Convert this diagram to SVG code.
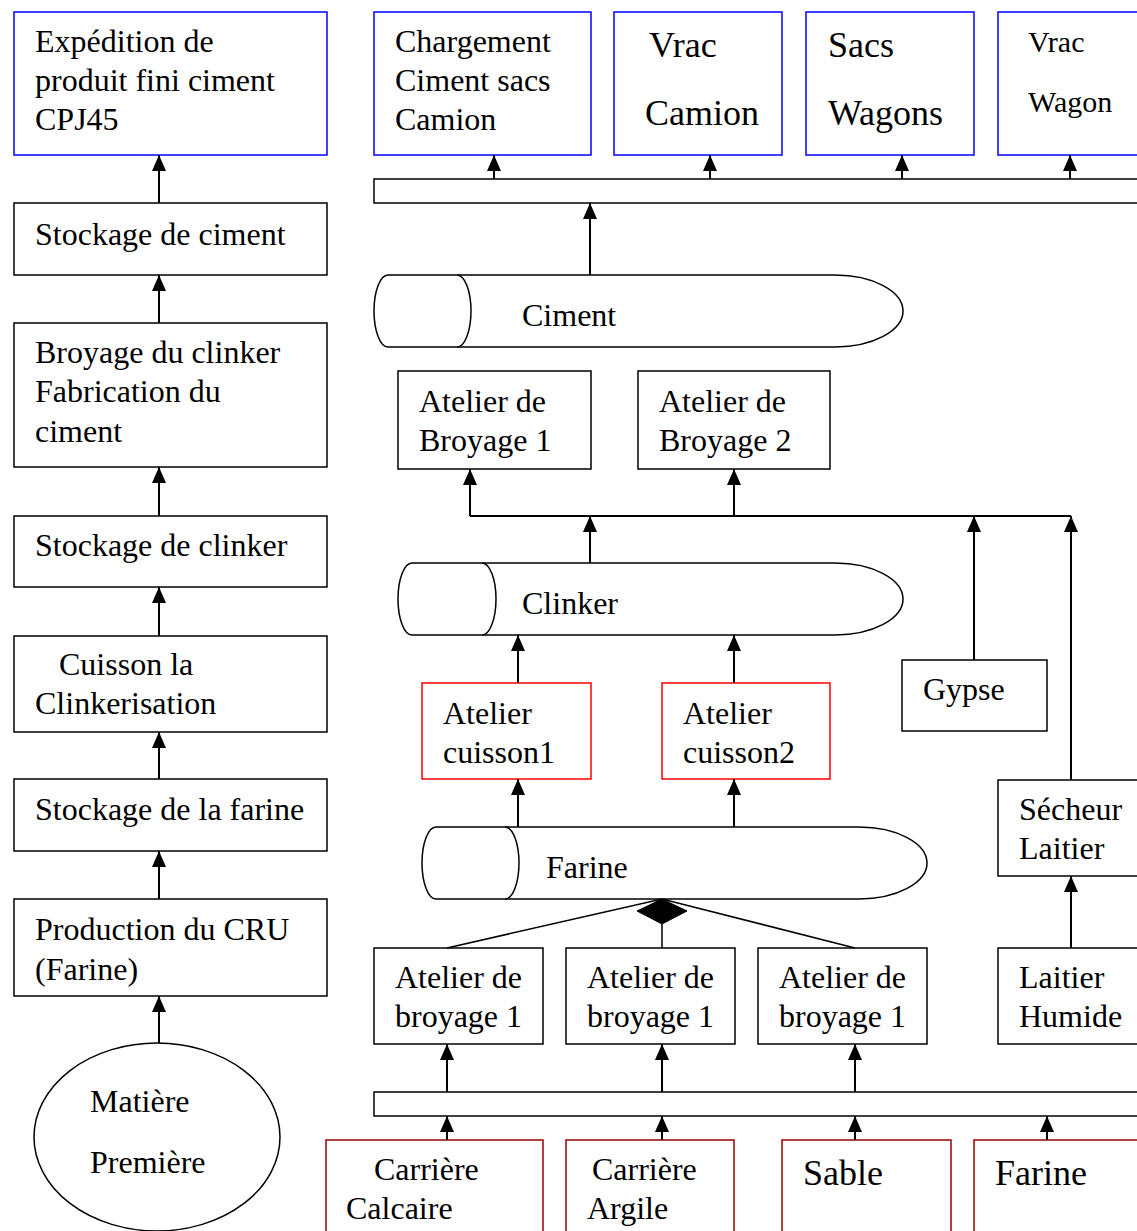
<svg xmlns="http://www.w3.org/2000/svg" width="1137" height="1231" viewBox="0 0 1137 1231">
  <style>
    text { font-family: "Liberation Serif", "Times New Roman", serif; font-size: 32px; fill: #000; }
    .big { font-size: 36px; }
    .mid { font-size: 30px; }
    .box { fill: #fff; stroke: #000; stroke-width: 1.5; }
    .blue { fill: #fff; stroke: #0000ff; stroke-width: 1.5; }
    .red { fill: #fff; stroke: #ff0000; stroke-width: 1.5; }
    .dark { fill: #fff; stroke: #990000; stroke-width: 1.5; }
    .silo { fill: #fff; stroke: #000; stroke-width: 1.5; }
    .arrow { fill: none; stroke: #000; stroke-width: 2; marker-end: url(#head); }
    .line { fill: none; stroke: #000; stroke-width: 2; }
    .thin { fill: none; stroke: #000; stroke-width: 1.5; }
  </style>
  <defs>
    <marker id="head" viewBox="0 0 16 14" refX="16" refY="7" markerWidth="16" markerHeight="14" markerUnits="userSpaceOnUse" orient="auto">
      <path d="M0,0 L16,7 L0,14 Z" fill="#000"/>
    </marker>
  </defs>
  <rect width="1137" height="1231" fill="#fff"/>

  <!-- Left column: overall process -->
  <g id="expedition">
    <rect class="blue" x="14" y="12" width="313" height="143"/>
    <text x="35" y="52">Expédition de</text>
    <text x="35" y="91">produit fini ciment</text>
    <text x="35" y="130">CPJ45</text>
  </g>
  <g id="stockage-ciment">
    <rect class="box" x="14" y="203" width="313" height="72"/>
    <text x="35" y="245">Stockage de ciment</text>
  </g>
  <g id="broyage-clinker">
    <rect class="box" x="14" y="323" width="313" height="144"/>
    <text x="35" y="363">Broyage du clinker</text>
    <text x="35" y="402">Fabrication du</text>
    <text x="35" y="442">ciment</text>
  </g>
  <g id="stockage-clinker">
    <rect class="box" x="14" y="516" width="313" height="71"/>
    <text x="35" y="556">Stockage de clinker</text>
  </g>
  <g id="cuisson">
    <rect class="box" x="14" y="636" width="313" height="96"/>
    <text x="59" y="675">Cuisson la</text>
    <text x="35" y="714">Clinkerisation</text>
  </g>
  <g id="stockage-farine">
    <rect class="box" x="14" y="779" width="313" height="72"/>
    <text x="35" y="820">Stockage de la farine</text>
  </g>
  <g id="production-cru">
    <rect class="box" x="14" y="899" width="313" height="97"/>
    <text x="35" y="940">Production du CRU</text>
    <text x="35" y="980">(Farine)</text>
  </g>
  <g id="matiere-premiere">
    <ellipse class="box" cx="157" cy="1137" rx="123" ry="94"/>
    <text x="90" y="1112">Matière</text>
    <text x="90" y="1173">Première</text>
  </g>

  <!-- Right side: expedition modes -->
  <g id="chargement-sacs">
    <rect class="blue" x="374" y="12" width="217" height="143"/>
    <text x="395" y="52">Chargement</text>
    <text x="395" y="91">Ciment sacs</text>
    <text x="395" y="130">Camion</text>
  </g>
  <g id="vrac-camion">
    <rect class="blue" x="614" y="12" width="168" height="143"/>
    <text class="big" x="649" y="57">Vrac</text>
    <text class="big" x="645" y="125">Camion</text>
  </g>
  <g id="sacs-wagons">
    <rect class="blue" x="806" y="12" width="168" height="143"/>
    <text class="big" x="828" y="57">Sacs</text>
    <text class="big" x="828" y="125">Wagons</text>
  </g>
  <g id="vrac-wagon">
    <rect class="blue" x="998" y="12" width="160" height="143"/>
    <text class="mid" x="1028" y="52">Vrac</text>
    <text class="mid" x="1028" y="112">Wagon</text>
  </g>
  <g id="bar-expedition">
    <rect class="box" x="374" y="179" width="790" height="24"/>
  </g>

  <!-- Silos -->
  <g id="silo-ciment">
    <path class="silo" d="M388,275 L835,275 A68,36 0 0 1 835,347 L388,347 A14,36 0 0 1 388,275 Z"/>
    <path class="silo" d="M457,275 A14,36 0 0 1 457,347"/>
    <text x="522" y="326">Ciment</text>
  </g>
  <g id="silo-clinker">
    <path class="silo" d="M412,563 L835,563 A68,36 0 0 1 835,635 L412,635 A14,36 0 0 1 412,563 Z"/>
    <path class="silo" d="M482,563 A14,36 0 0 1 482,635"/>
    <text x="522" y="614">Clinker</text>
  </g>
  <g id="silo-farine">
    <path class="silo" d="M436,827 L859,827 A68,36 0 0 1 859,899 L436,899 A14,36 0 0 1 436,827 Z"/>
    <path class="silo" d="M505,827 A14,36 0 0 1 505,899"/>
    <text x="546" y="878">Farine</text>
  </g>

  <!-- Grinding workshops -->
  <g id="atelier-broyage-1">
    <rect class="box" x="398" y="371" width="193" height="98"/>
    <text x="419" y="412">Atelier de</text>
    <text x="419" y="451">Broyage 1</text>
  </g>
  <g id="atelier-broyage-2">
    <rect class="box" x="638" y="371" width="192" height="98"/>
    <text x="659" y="412">Atelier de</text>
    <text x="659" y="451">Broyage 2</text>
  </g>

  <!-- Kilns -->
  <g id="atelier-cuisson-1">
    <rect class="red" x="422" y="683" width="169" height="96"/>
    <text x="443" y="724">Atelier</text>
    <text x="443" y="763">cuisson1</text>
  </g>
  <g id="atelier-cuisson-2">
    <rect class="red" x="662" y="683" width="168" height="96"/>
    <text x="683" y="724">Atelier</text>
    <text x="683" y="763">cuisson2</text>
  </g>

  <!-- Additives -->
  <g id="gypse">
    <rect class="box" x="902" y="660" width="145" height="71"/>
    <text x="923" y="700">Gypse</text>
  </g>
  <g id="secheur-laitier">
    <rect class="box" x="998" y="780" width="160" height="96"/>
    <text x="1019" y="820">Sécheur</text>
    <text x="1019" y="859">Laitier</text>
  </g>
  <g id="laitier-humide">
    <rect class="box" x="998" y="948" width="160" height="96"/>
    <text x="1019" y="988">Laitier</text>
    <text x="1019" y="1027">Humide</text>
  </g>

  <!-- Raw grinding -->
  <g id="atelier-cru-1">
    <rect class="box" x="374" y="948" width="169" height="96"/>
    <text x="395" y="988">Atelier de</text>
    <text x="395" y="1027">broyage 1</text>
  </g>
  <g id="atelier-cru-2">
    <rect class="box" x="566" y="948" width="169" height="96"/>
    <text x="587" y="988">Atelier de</text>
    <text x="587" y="1027">broyage 1</text>
  </g>
  <g id="atelier-cru-3">
    <rect class="box" x="758" y="948" width="169" height="96"/>
    <text x="779" y="988">Atelier de</text>
    <text x="779" y="1027">broyage 1</text>
  </g>
  <g id="bar-matieres">
    <rect class="box" x="374" y="1092" width="790" height="24"/>
  </g>

  <!-- Quarries and inputs -->
  <g id="carriere-calcaire">
    <rect class="dark" x="326" y="1140" width="217" height="110"/>
    <text x="374" y="1180">Carrière</text>
    <text x="346" y="1219">Calcaire</text>
  </g>
  <g id="carriere-argile">
    <rect class="dark" x="566" y="1140" width="168" height="110"/>
    <text x="592" y="1180">Carrière</text>
    <text x="587" y="1219">Argile</text>
  </g>
  <g id="sable">
    <rect class="dark" x="782" y="1140" width="169" height="110"/>
    <text class="big" x="803" y="1185">Sable</text>
  </g>
  <g id="farine-input">
    <rect class="dark" x="974" y="1140" width="184" height="110"/>
    <text class="big" x="995" y="1185">Farine</text>
  </g>

  <!-- Connectors -->
  <g id="connectors">
    <!-- left column chain -->
    <path class="arrow" d="M159,203 V155"/>
    <path class="arrow" d="M159,323 V275"/>
    <path class="arrow" d="M159,516 V467"/>
    <path class="arrow" d="M159,636 V587"/>
    <path class="arrow" d="M159,779 V732"/>
    <path class="arrow" d="M159,899 V851"/>
    <path class="arrow" d="M159,1043 V996"/>

    <!-- expedition bar to modes -->
    <path class="arrow" d="M494,179 V155"/>
    <path class="arrow" d="M710,179 V155"/>
    <path class="arrow" d="M902,179 V155"/>
    <path class="arrow" d="M1070,179 V155"/>
    <path class="arrow" d="M590,275 V203"/>

    <!-- grinding collector -->
    <path class="line" d="M470,516 H1071"/>
    <path class="arrow" d="M470,516 V469"/>
    <path class="arrow" d="M734,516 V469"/>
    <path class="arrow" d="M590,563 V516"/>
    <path class="arrow" d="M974,660 V516"/>
    <path class="arrow" d="M1071,780 V516"/>
    <path class="arrow" d="M1071,948 V876"/>

    <!-- kilns -->
    <path class="arrow" d="M518,683 V635"/>
    <path class="arrow" d="M734,683 V635"/>
    <path class="arrow" d="M518,827 V779"/>
    <path class="arrow" d="M734,827 V779"/>

    <!-- aggregation into farine silo -->
    <path class="thin" d="M447,948 L662,899 L855,948"/>
    <path d="M662,899 L687,911 L662,924 L637,911 Z" fill="#000" stroke="#000" stroke-width="1"/>
    <path class="thin" d="M662,924 V948"/>

    <!-- raw material bar -->
    <path class="arrow" d="M447,1092 V1044"/>
    <path class="arrow" d="M662,1092 V1044"/>
    <path class="arrow" d="M855,1092 V1044"/>
    <path class="arrow" d="M447,1140 V1116"/>
    <path class="arrow" d="M662,1140 V1116"/>
    <path class="arrow" d="M855,1140 V1116"/>
    <path class="arrow" d="M1047,1140 V1116"/>
  </g>
</svg>
